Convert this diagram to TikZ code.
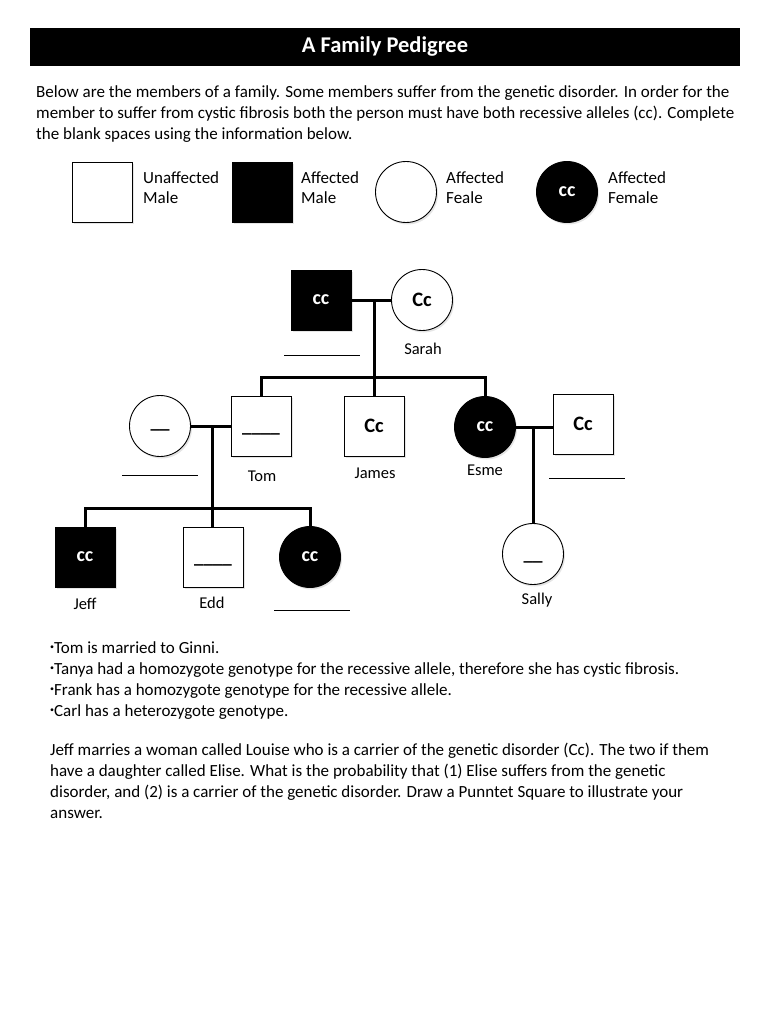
\documentclass[tikz,border=0pt]{standalone}
\usepackage{fontspec}
\setmainfont{Carlito}
\usetikzlibrary{shadows}
\newcommand{\blt}{\raisebox{3.5pt}{\fontsize{8}{8}\selectfont•}}
\begin{document}
\begin{tikzpicture}[x=1pt,y=-1pt,
  body/.style={anchor=base west, inner sep=0, font=\fontsize{17}{20}\selectfont},
  sh/.style={drop shadow={opacity=0.2, shadow xshift=1.5pt, shadow yshift=-2pt}},
  male/.style={draw, line width=0.9pt, minimum width=60, minimum height=60, inner sep=0, fill=white, sh},
  female/.style={draw, line width=0.9pt, circle, minimum size=61, inner sep=0, fill=white, sh},
  aff/.style={fill=black, text=white},
  geno/.style={font=\fontsize{20.5}{22}\selectfont\bfseries},
  genos/.style={font=\fontsize{20}{22}\selectfont\bfseries},
  blk/.style={inner sep=0, font=\fontsize{19}{20}\selectfont\bfseries},
  lbl/.style={inner sep=0, font=\fontsize{16.5}{18}\selectfont},
  leg/.style={inner sep=0, anchor=west, align=left, font=\fontsize{17}{20}\selectfont},
  conn/.style={line width=3pt},
  blank/.style={line width=0.8pt}]
\useasboundingbox[fill=white] (0,0) rectangle (768,1024);
% title
\node[fill=black, minimum width=710, minimum height=38, inner sep=0, text=white,
  font=\fontsize{22.5}{24}\selectfont\bfseries] (title) at (385,47) {A Family Pedigree};
% intro
\node[body] (p1) at (36,98) {Below are the members of a family. Some members suffer from the genetic disorder. In order for the};
\node[body] (p2) at (36,119) {member to suffer from cystic fibrosis both the person must have both recessive alleles (cc). Complete};
\node[body] (p3) at (36,140) {the blank spaces using the information below.};
% legend
\node[male] (L1) at (102,192) {};
\node[leg] (L1t) at (143,188) {Unaffected\\Male};
\node[male, aff] (L2) at (262,192) {};
\node[leg] (L2t) at (301,188) {Affected\\Male};
\node[female] (L3) at (406,192) {};
\node[leg] (L3t) at (446,188) {Affected\\Feale};
\node[female, aff, genos] (L4) at (567,192) {cc};
\node[leg] (L4t) at (608,188) {Affected\\Female};
% generation 1
\node[male, aff, genos] (gf) at (321,300) {cc};
\node[female, geno] (sarah) at (422,300) {Cc};
\node[lbl] (sarahT) at (423,349) {Sarah};
% generation 2
\node[female] (ginni) at (160,426) {};
\node[blk] (ginniG) at ([yshift=-4pt]ginni.center) {\_\_};
\node[male] (tom) at (261,426) {};
\node[blk] (tomG) at ([yshift=-8pt]tom.center) {\_\_\_\_};
\node[lbl] (tomT) at (262,476) {Tom};
\node[male, geno] (james) at (374,426) {Cc};
\node[lbl] (jamesT) at (375,473) {James};
\node[female, aff, genos] (esme) at (485,427) {cc};
\node[lbl] (esmeT) at (485,470) {Esme};
\node[male, geno] (hus) at (583,424) {Cc};
% generation 3
\node[male, aff, genos] (jeff) at (85,557) {cc};
\node[lbl] (jeffT) at (85,604) {Jeff};
\node[male] (edd) at (213,557) {};
\node[blk] (eddG) at ([yshift=-8pt]edd.center) {\_\_\_\_};
\node[lbl] (eddT) at (212,603) {Edd};
\node[female, aff, genos] (dau) at (310,557) {cc};
\node[female] (sally) at (533,554) {};
\node[blk] (sallyG) at ([yshift=-8pt]sally.center) {\_\_};
\node[lbl] (sallyT) at (537,600) {Sally};
% connector points
\coordinate (m1) at (374,300);
\coordinate (s1) at (374,377);
\coordinate (m2) at (212,426);
\coordinate (s2) at (212,508);
\coordinate (m3) at (533,427);
% connectors
\draw[conn] (gf.east) -- (sarah.west);
\draw[conn] (m1) -- (s1);
\draw[conn] (tom.north) |- (s1) -| (esme.north);
\draw[conn] (s1) -- (james.north);
\draw[conn] (ginni.east) -- (tom.west);
\draw[conn] (m2) -- (m2 |- edd.north);
\draw[conn] (jeff.north) |- (s2) -| (dau.north);
\draw[conn] (esme.east) -- (esme.east -| hus.west);
\draw[conn] (m3) -- (sally.north);
% answer blanks
\draw[blank] (284,355) -- (360,355);
\draw[blank] (122,475) -- (198,475);
\draw[blank] (549,478) -- (625,478);
\draw[blank] (274,610) -- (350,610);
% clues
\node[body] (c1) at (50,653) {\blt Tom is married to Ginni.};
\node[body] (c2) at (50,674) {\blt Tanya had a homozygote genotype for the recessive allele, therefore she has cystic fibrosis.};
\node[body] (c3) at (50,695) {\blt Frank has a homozygote genotype for the recessive allele.};
\node[body] (c4) at (50,716) {\blt Carl has a heterozygote genotype.};
\node[body] (q1) at (50,755) {Jeff marries a woman called Louise who is a carrier of the genetic disorder (Cc). The two if them};
\node[body] (q2) at (50,776) {have a daughter called Elise. What is the probability that (1) Elise suffers from the genetic};
\node[body] (q3) at (50,797) {disorder, and (2) is a carrier of the genetic disorder. Draw a Punntet Square to illustrate your};
\node[body] (q4) at (50,818) {answer.};
\end{tikzpicture}
\end{document}
